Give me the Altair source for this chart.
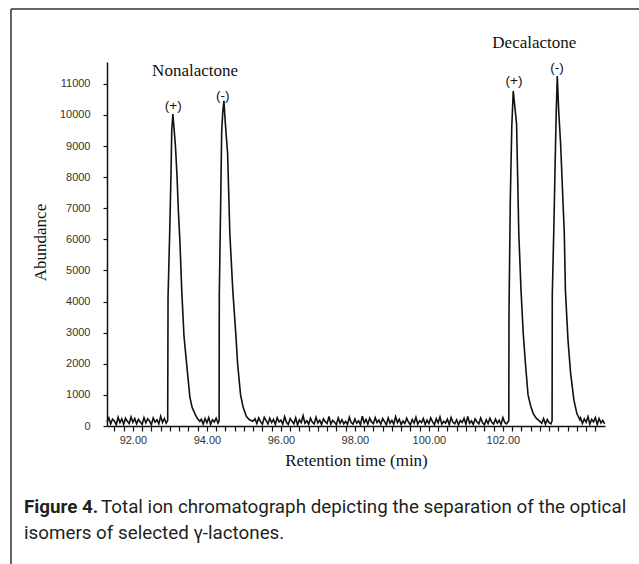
import altair as alt
import pandas as pd

# ---------------- data ----------------
scan_step = 0.05  # spacing of the baseline scans (min)

# baseline noise segments: start time + abundance readings
base_a_start = 91.30
base_a_v = [140, 260, 70, 220, 160, 40, 280, 110, 230, 60, 250, 150, 80, 290, 120, 240, 70,
            210, 130, 50, 270, 100, 230, 160, 40, 260, 120, 200, 70, 310, 110, 240, 90]

# Nonalactone (+)
non_p_t = [92.94, 92.95, 92.99, 93.03, 93.05, 93.08, 93.11, 93.15, 93.19, 93.23,
           93.27, 93.32, 93.38, 93.46, 93.54, 93.60, 93.68, 93.75, 93.81]
non_p_v = [180, 4150, 6000, 8100, 9500, 10030, 9600, 9000, 8100, 6900,
           5960, 4360, 2900, 1900, 930, 600, 380, 230, 150]

base_b_start = 93.85
base_b_v = [220, 60, 240, 100, 270, 50, 200, 130, 250, 90]

# Nonalactone (-)
non_m_t = [94.33, 94.335, 94.37, 94.40, 94.43, 94.46, 94.50, 94.56, 94.62, 94.70,
           94.78, 94.83, 94.91, 94.98, 95.07, 95.15, 95.24]
non_m_v = [170, 4200, 7000, 9490, 10100, 10450, 9700, 8750, 6190, 4360,
           2980, 2000, 1000, 600, 300, 200, 150]

base_c_start = 95.30
base_c_v = [230, 80, 260, 140, 60, 280, 170, 70, 250, 110,
            210, 50, 270, 130, 190, 60, 300, 120, 50, 240,
            150, 70, 260, 40, 200, 110, 330, 90, 170, 60,
            250, 120, 70, 280, 100, 190, 50, 230, 140, 80,
            310, 60, 180, 120, 40, 260, 90, 200, 70, 150,
            50, 280, 110, 60, 230, 90, 170, 40, 320, 100,
            210, 60, 250, 130, 80, 270, 110, 190, 60, 240,
            140, 40, 260, 90, 180, 60, 300, 110, 220, 50,
            160, 80, 250, 120, 40, 210, 90, 280, 60, 170,
            110, 240, 50, 190, 80, 260, 130, 40, 230, 100,
            290, 60, 150, 90, 220, 50, 270, 120, 70, 200,
            40, 180, 110, 250, 60, 310, 90, 160, 50, 230,
            130, 70, 260, 100, 40, 200, 80, 250, 120, 60,
            220, 90, 180, 50, 270, 110, 70]

# Decalactone (+)
dec_p_t = [102.16, 102.165, 102.20, 102.24, 102.28, 102.32, 102.37, 102.43, 102.49, 102.55,
           102.61, 102.68, 102.75, 102.82, 102.90, 103.00]
dec_p_v = [170, 3620, 7240, 9600, 10770, 10300, 9710, 6190, 4360, 2980,
           2000, 1000, 650, 400, 250, 150]

base_d_start = 103.05
base_d_v = [90, 240, 60, 210, 110, 70]

# Decalactone (-)
dec_m_t = [103.33, 103.335, 103.38, 103.41, 103.44, 103.47, 103.51, 103.56, 103.66, 103.69,
           103.76, 103.83, 103.92, 104.00, 104.08]
dec_m_v = [170, 4200, 6500, 8300, 10000, 11250, 10100, 9070, 6190, 4360,
           2760, 1700, 830, 400, 200]

base_e_start = 104.10
base_e_v = [260, 80, 230, 120, 300, 60, 210, 130, 270, 50, 240, 100, 180, 70]

# annotations
name_labels = ["Nonalactone", "Decalactone"]
name_t = [93.68, 102.85]
name_v = [11410, 12320]

sign_labels = ["(+)", "(-)", "(+)", "(-)"]
sign_t = [93.09, 94.43, 102.30, 103.46]
sign_v = [10290, 10610, 11090, 11510]

x_ticks = [91.5, 91.75, 92.0, 92.25, 92.5, 92.75, 93.0, 93.25, 93.5, 93.75,
           94.0, 94.25, 94.5, 94.75, 95.0, 95.25, 95.5, 95.75, 96.0, 96.25,
           96.5, 96.75, 97.0, 97.25, 97.5, 97.75, 98.0, 98.25, 98.5, 98.75,
           99.0, 99.25, 99.5, 99.75, 100.0, 100.25, 100.5, 100.75, 101.0, 101.25,
           101.5, 101.75, 102.0, 102.25, 102.5, 102.75, 103.0, 103.25, 103.5, 103.75,
           104.0, 104.25, 104.5]
x_labelled = [92, 94, 96, 98, 100, 102]
y_ticks = [0, 1000, 2000, 3000, 4000, 5000, 6000, 7000, 8000, 9000, 10000, 11000]

caption_bold = "Figure 4."
caption_line1 = "Total ion chromatograph depicting the separation of the optical"
caption_line2 = "isomers of selected γ-lactones."


# ---------------- build ----------------
def scans(start, vals):
    return [round(start + scan_step * k, 3) for k in range(len(vals))]


t_all = (scans(base_a_start, base_a_v) + non_p_t + scans(base_b_start, base_b_v) + non_m_t
         + scans(base_c_start, base_c_v) + dec_p_t + scans(base_d_start, base_d_v) + dec_m_t
         + scans(base_e_start, base_e_v))
v_all = base_a_v + non_p_v + base_b_v + non_m_v + base_c_v + dec_p_v + base_d_v + dec_m_v + base_e_v
df = pd.DataFrame({"t": t_all, "v": v_all, "i": list(range(len(t_all)))})

W, H = 498, 364
PAD_L, PAD_T = 107, 62

x_scale = alt.Scale(domain=[91.3, 104.76], nice=False, zero=False)
y_scale = alt.Scale(domain=[0, 11700], nice=False)

SANS = "Liberation Sans, Arial, sans-serif"
SERIF = "Liberation Serif, Times New Roman, serif"
CAP = "Roboto, sans-serif"
CAP_SIZE = 18.8

label_test = " || ".join(f"datum.value == {v}" for v in x_labelled)
x_axis = alt.Axis(values=x_ticks,
                  labelExpr=f"({label_test}) ? format(datum.value, '.2f') : ''",
                  labelOverlap=False, labelFlush=False,
                  tickSize=5, tickColor="#111111", tickWidth=1.2,
                  domainColor="#111111", domainWidth=1.5,
                  labelFont=SANS, labelFontSize=11, labelColor="#333333",
                  labelPadding=3, grid=False,
                  title="Retention time (min)", titleFont=SERIF, titleFontSize=17,
                  titleFontWeight="normal", titleColor="#111111",
                  titleX=249, titleY=34, titleAlign="center", titleBaseline="middle")
y_axis = alt.Axis(values=y_ticks, format="d", labelOverlap=False,
                  tickSize=4, tickColor="#111111", tickWidth=1.2,
                  domainColor="#111111", domainWidth=1.5,
                  labelFont=SANS, labelFontSize=11, labelColor="#333333",
                  labelPadding=13, grid=False,
                  title="Abundance", titleFont=SERIF, titleFontSize=17,
                  titleFontWeight="normal", titleColor="#111111",
                  titleX=-67, titleY=180, titleAngle=270,
                  titleAlign="center", titleBaseline="middle")

X = alt.X("t:Q", scale=x_scale, axis=x_axis)
Y = alt.Y("v:Q", scale=y_scale, axis=y_axis)

line = alt.Chart(df).mark_line(color="#111111", strokeWidth=1.6).encode(
    x=X, y=Y, order="i:Q")

names = alt.Chart(pd.DataFrame({"lab": name_labels, "t": name_t, "v": name_v})).mark_text(
    font=SERIF, fontSize=17, color="#111111", baseline="middle", align="center"
).encode(x=X, y=Y, text="lab:N")

signs = alt.Chart(pd.DataFrame({"lab": sign_labels, "t": sign_t, "v": sign_v})).mark_text(
    font=SANS, fontSize=13.5, color="#111111", baseline="middle", align="center"
).encode(x=X, y=Y, text="lab:N")

frame_df = pd.DataFrame({"a": [0]})
frame_top = alt.Chart(frame_df).mark_rule(color="#333333", strokeWidth=1.5).encode(
    x=alt.value(11 - PAD_L), x2=alt.value(639 - PAD_L), y=alt.value(9 - PAD_T))
frame_left = alt.Chart(frame_df).mark_rule(color="#333333", strokeWidth=1.5).encode(
    x=alt.value(11 - PAD_L), y=alt.value(9 - PAD_T), y2=alt.value(564 - PAD_T))

cap_bold = alt.Chart(pd.DataFrame({"c": [caption_bold]})).mark_text(
    font=CAP, fontSize=CAP_SIZE, fontWeight="bold", color="#231f20", align="left", baseline="alphabetic"
).encode(text="c:N", x=alt.value(24 - PAD_L), y=alt.value(513 - PAD_T))
cap_l1 = alt.Chart(pd.DataFrame({"c": [caption_line1]})).mark_text(
    font=CAP, fontSize=CAP_SIZE, color="#231f20", align="left", baseline="alphabetic"
).encode(text="c:N", x=alt.value(101 - PAD_L), y=alt.value(513 - PAD_T))
cap_l2 = alt.Chart(pd.DataFrame({"c": [caption_line2]})).mark_text(
    font=CAP, fontSize=CAP_SIZE, color="#231f20", align="left", baseline="alphabetic"
).encode(text="c:N", x=alt.value(24 - PAD_L), y=alt.value(539 - PAD_T))

chart = alt.layer(line, names, signs, frame_top, frame_left, cap_bold, cap_l1, cap_l2).properties(
    width=W, height=H,
    autosize=alt.AutoSizeParams(type="none"),
    padding={"left": PAD_L, "top": PAD_T, "right": 639 - PAD_L - W, "bottom": 564 - PAD_T - H},
    background="white",
).configure_view(stroke=None)

chart.save("out.html", embed_options={"renderer": "svg", "actions": False})
